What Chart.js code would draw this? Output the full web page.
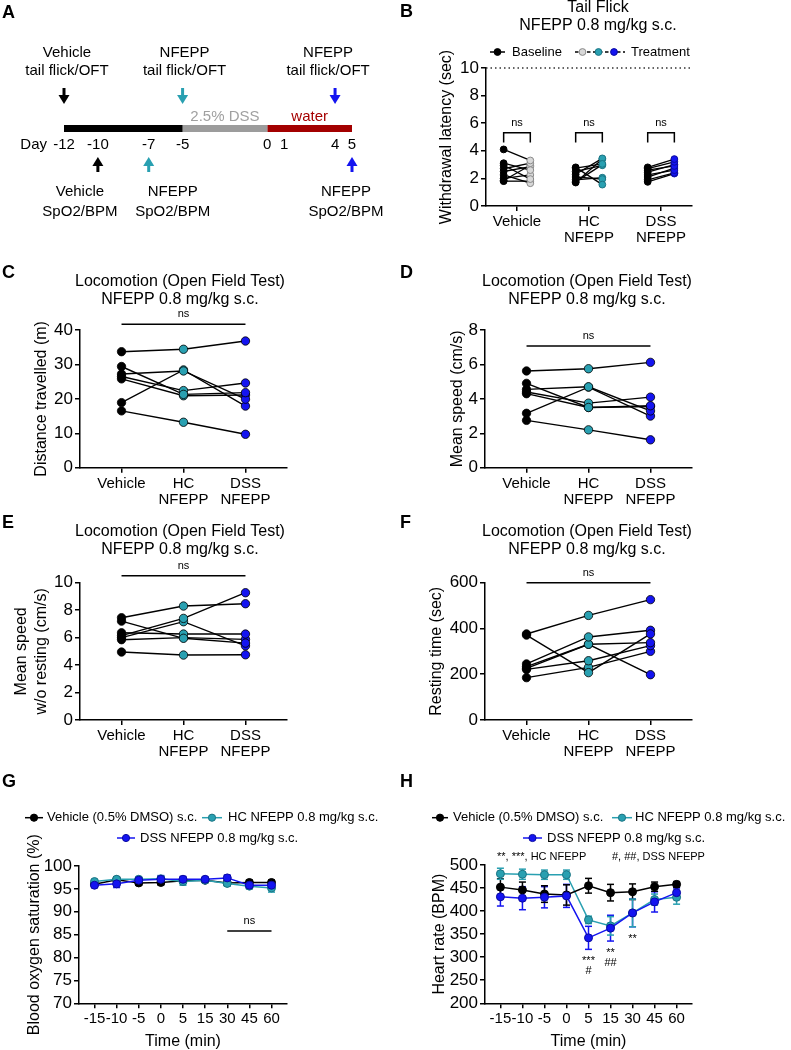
<!DOCTYPE html>
<html><head><meta charset="utf-8">
<script src="https://cdn.jsdelivr.net/npm/chart.js@4.4.1/dist/chart.umd.min.js"></script>
<style>
html,body{margin:0;padding:0;background:#fff;}
body{position:relative;width:791px;height:1050px;overflow:hidden;}
canvas{position:absolute;}
</style></head><body>
<script>
// ================= DATA =================
// Panel A timeline (days)
const timelineDays = [-12, -10, -7, -5, 0, 1, 4, 5];
const phaseStart = [-12, -5, 0];
const phaseEnd = [-5, 0, 5];
const phaseNames = ['', '2.5% DSS', 'water'];
const eventDays = [-12, -5, 4, -10, -7, 5];
const eventDrug = ['Vehicle', 'NFEPP', 'NFEPP', 'Vehicle', 'NFEPP', 'NFEPP'];
const eventTest = ['tail flick/OFT', 'tail flick/OFT', 'tail flick/OFT', 'SpO2/BPM', 'SpO2/BPM', 'SpO2/BPM'];
const eventGroup = [0, 1, 2, 0, 1, 2];

// Groups
const groupLabels = ['Vehicle', ['HC', 'NFEPP'], ['DSS', 'NFEPP']];

// Panel B tail flick withdrawal latency (sec)
const tfVehicleBase  = [4.1, 3.1, 2.95, 2.7, 2.5, 2.25, 2.0, 1.85, 1.8];
const tfVehicleTreat = [3.3, 2.6, 1.95, 3.1, 2.85, 1.65, 2.25, 2.95, 1.8];
const tfHCBase  = [2.8, 2.75, 2.5, 2.3, 2.1, 1.9, 1.75, 1.7];
const tfHCTreat = [1.55, 3.05, 2.95, 3.45, 1.95, 2.05, 3.0, 3.4];
const tfDSSBase  = [2.8, 2.7, 2.6, 2.45, 2.25, 2.1, 1.9, 1.75];
const tfDSSTreat = [3.4, 3.2, 2.9, 3.0, 2.6, 2.75, 2.4, 2.35];

// Panel C distance travelled (m)
const distVehicle = [33.7, 29.4, 27.2, 26.5, 25.8, 18.9, 16.5];
const distHC      = [34.4, 21.3, 28.1, 22.4, 20.9, 28.4, 13.2];
const distDSS     = [36.8, 21.8, 19.9, 24.6, 21.1, 17.9, 9.7];
// Panel D mean speed (cm/s)
const speedVehicle = [5.62, 4.9, 4.55, 4.4, 4.3, 3.16, 2.75];
const speedHC      = [5.75, 3.5, 4.7, 3.75, 3.5, 4.68, 2.2];
const speedDSS     = [6.12, 3.6, 3.3, 4.1, 3.55, 3.0, 1.62];
// Panel E mean speed w/o resting (cm/s)
const speedNRVehicle = [7.45, 7.2, 6.35, 6.15, 6.0, 5.85, 4.95];
const speedNRHC      = [8.3, 5.95, 6.26, 7.4, 7.16, 6.0, 4.73];
const speedNRDSS     = [8.47, 5.6, 6.26, 9.27, 5.4, 5.87, 4.75];
// Panel F resting time (sec)
const restVehicle = [376, 371, 245, 233, 226, 221, 185];
const restHC      = [457, 207, 363, 331, 331, 259, 230];
const restDSS     = [526, 376, 392, 338, 198, 325, 300];

// Panels G/H time course
const timeLabels = ['-15', '-10', '-5', '0', '5', '15', '30', '45', '60'];
const spo2Vehicle = [96.0, 97.0, 96.3, 96.4, 96.8, 96.9, 96.3, 96.4, 96.4];
const spo2VehicleSem = [0.5, 0.6, 0.5, 0.5, 0.4, 0.3, 0.5, 0.5, 0.5];
const spo2HC = [96.6, 97.1, 97.1, 97.2, 96.6, 96.9, 96.2, 95.6, 95.2];
const spo2HCSem = [0.4, 0.4, 0.4, 0.6, 0.8, 0.4, 0.6, 0.6, 0.9];
const spo2DSS = [95.8, 96.1, 96.9, 97.1, 97.1, 97.1, 97.4, 95.8, 95.8];
const spo2DSSSem = [0.5, 0.8, 0.5, 0.8, 0.6, 0.4, 0.6, 0.6, 0.6];

const hrVehicle = [452, 446, 437, 435, 455, 440, 442, 453, 458];
const hrVehicleSem = [18, 17, 18, 22, 16, 18, 17, 10, 6];
const hrHC = [481, 480, 479, 479, 381, 368, 396, 425, 430];
const hrHCSem = [12, 11, 10, 10, 8, 20, 30, 12, 15];
const hrDSS = [431, 428, 430, 433, 342, 363, 396, 420, 440];
const hrDSSSem = [20, 25, 23, 25, 25, 28, 30, 22, 10];
const hrSigHC  = ['', '', '', '', '***', '**', '**', '', ''];
const hrSigDSS = ['', '', '', '', '#', '##', '', '', ''];

// ================= STYLE / HELPERS =================
const FONT = "'Liberation Sans', Arial, Helvetica, sans-serif";
Chart.defaults.font.family = FONT;
Chart.defaults.color = '#000';
const TEAL = '#29A0B1', TEAL_DARK = '#1B7483', BLUE = '#1414F0', BLUE_DARK = '#0A0AA0', LIGHT = '#D8D8D8';
const GROUP_COLORS = ['#000000', TEAL, BLUE];
const AXW = 1.5;

function txt(ctx, s, x, y, size, o = {}) {
  ctx.save();
  ctx.font = (o.bold ? 'bold ' : '') + size + 'px ' + FONT;
  ctx.fillStyle = o.color || '#000';
  ctx.textAlign = o.align || 'center';
  ctx.textBaseline = o.baseline || 'middle';
  if (o.rot) { ctx.translate(x, y); ctx.rotate(o.rot); ctx.fillText(s, 0, 0); }
  else ctx.fillText(s, x, y);
  ctx.restore();
}
function line(ctx, x0, y0, x1, y1, color, w, dash) {
  ctx.save(); ctx.strokeStyle = color || '#000'; ctx.lineWidth = w || AXW;
  if (dash) ctx.setLineDash(dash);
  ctx.beginPath(); ctx.moveTo(x0, y0); ctx.lineTo(x1, y1); ctx.stroke(); ctx.restore();
}
function dot(ctx, x, y, r, fill, stroke) {
  ctx.save(); ctx.beginPath(); ctx.arc(x, y, r, 0, Math.PI * 2);
  ctx.fillStyle = fill; ctx.fill(); ctx.strokeStyle = stroke; ctx.lineWidth = 1; ctx.stroke(); ctx.restore();
}

function makePanel(box, area, cfg) {
  const c = document.createElement('canvas');
  c.width = box.w; c.height = box.h;
  c.style.left = box.left + 'px'; c.style.top = box.top + 'px';
  document.body.appendChild(c);
  const yShown = cfg.y.display !== false;
  const YW = 40;
  if (yShown) cfg.y.afterFit = s => { s.width = YW; };
  const xH = box.top + box.h - area.b;
  cfg.x.afterFit = s => { s.height = xH; };
  const H = chart => ({
    sx: v => chart.scales.x.getPixelForValue(v) + box.left,
    sy: v => chart.scales.y.getPixelForValue(v) + box.top,
    area: { l: chart.chartArea.left + box.left, r: chart.chartArea.right + box.left,
            t: chart.chartArea.top + box.top, b: chart.chartArea.bottom + box.top }
  });
  const hook = fn => chart => {
    if (!fn) return;
    const ctx = chart.ctx; ctx.save(); ctx.translate(-box.left, -box.top); fn(ctx, H(chart)); ctx.restore();
  };
  return new Chart(c, {
    type: 'line',
    data: { datasets: cfg.datasets },
    options: {
      responsive: false, animation: false,
      layout: { padding: { left: area.l - box.left - (yShown ? YW : 0), right: box.left + box.w - area.r, top: area.t - box.top, bottom: 0 } },
      scales: { x: cfg.x, y: cfg.y },
      plugins: { legend: { display: false }, tooltip: { enabled: false } },
      elements: { line: { tension: 0 } },
      events: []
    },
    plugins: [{ id: 'deco', beforeDatasetsDraw: hook(cfg.before), afterDraw: hook(cfg.after) }]
  });
}

function yAxis(min, max, step) {
  return { type: 'linear', min, max,
    ticks: { stepSize: step, font: { size: 17 }, padding: 2, color: '#000', autoSkip: false },
    grid: { drawOnChartArea: false, drawTicks: true, tickLength: 5, color: '#000', lineWidth: AXW },
    border: { display: true, color: '#000', width: AXW } };
}
function xAxis(min, max, vals, labels) {
  return { type: 'linear', min, max,
    afterBuildTicks: s => { s.ticks = vals.map(v => ({ value: v })); },
    ticks: { callback: v => labels[vals.indexOf(v)], font: { size: 15, lineHeight: 1.1 }, padding: 2.5,
             autoSkip: false, maxRotation: 0, minRotation: 0, color: '#000' },
    grid: { drawOnChartArea: false, drawTicks: true, tickLength: 5, color: '#000', lineWidth: AXW },
    border: { display: true, color: '#000', width: AXW } };
}
function letter(ctx, s, x, y) { txt(ctx, s, x, y, 18, { bold: true, align: 'left', baseline: 'alphabetic' }); }
function yTitle(ctx, lines, xs, area) {
  const cy = (area.t + area.b) / 2;
  lines.forEach((s, i) => txt(ctx, s, xs[i], cy, 16, { rot: -Math.PI / 2 }));
}
function title2(ctx, a, b, x, y1, y2) { txt(ctx, a, x, y1, 16); txt(ctx, b, x, y2, 16); }

// ================= PANEL A =================
const phaseColors = ['#000000', '#9C9C9C', '#A30000'];
const phaseTextColors = ['#000', '#A0A0A0', '#A50000'];
makePanel({ left: 0, top: 0, w: 420, h: 232 }, { l: 64, r: 352, t: 100, b: 128.5 }, {
  datasets: phaseStart.map((s, i) => ({
    data: [{ x: s, y: 0 }, { x: phaseEnd[i], y: 0 }],
    borderColor: phaseColors[i], borderWidth: 7, borderCapStyle: 'butt', pointRadius: 0, clip: false
  })),
  x: { type: 'linear', min: -12, max: 5,
       afterBuildTicks: s => { s.ticks = timelineDays.map(v => ({ value: v })); },
       ticks: { callback: v => String(v), font: { size: 15 }, padding: 7.5, autoSkip: false, maxRotation: 0, color: '#000' },
       grid: { display: false, drawTicks: false }, border: { display: false } },
  y: { display: false, min: 0, max: 1 },
  after: (ctx, h) => {
    letter(ctx, 'A', 2, 18);
    txt(ctx, 'Day', 47, 145, 15, { align: 'right' });
    phaseNames.forEach((n, i) => {
      if (n) txt(ctx, n, (h.sx(phaseStart[i]) + h.sx(phaseEnd[i])) / 2, 117, 15, { color: phaseTextColors[i] });
    });
    const shift = [3, 2, -7, -18, 24, -6];
    eventDays.forEach((d, i) => {
      const x = h.sx(d), col = GROUP_COLORS[eventGroup[i]];
      const top = eventTest[i] === 'tail flick/OFT';
      const yTail = top ? 88 : 172, yHead = top ? 104 : 157;
      const dir = Math.sign(yHead - yTail);
      ctx.save();
      ctx.strokeStyle = col; ctx.fillStyle = col; ctx.lineWidth = 3;
      ctx.beginPath(); ctx.moveTo(x, yTail); ctx.lineTo(x, yHead - dir * 7); ctx.stroke();
      ctx.beginPath(); ctx.moveTo(x - 5.5, yHead - dir * 9); ctx.lineTo(x + 5.5, yHead - dir * 9); ctx.lineTo(x, yHead); ctx.closePath(); ctx.fill();
      ctx.restore();
      const ly = top ? [53, 71] : [192, 212];
      txt(ctx, eventDrug[i], x + shift[i], ly[0], 15);
      txt(ctx, eventTest[i], x + shift[i], ly[1], 15);
    });
  }
});

// ================= PANEL B =================
const TF_OFF = 0.185;
const tfGroups = [[tfVehicleBase, tfVehicleTreat], [tfHCBase, tfHCTreat], [tfDSSBase, tfDSSTreat]];
const treatFill = [LIGHT, TEAL, BLUE], treatEdge = ['#8A8A8A', TEAL_DARK, BLUE_DARK];
const tfDatasets = [];
tfGroups.forEach(([b, t], g) => b.forEach((v, i) => tfDatasets.push({
  data: [{ x: g - TF_OFF, y: v }, { x: g + TF_OFF, y: t[i] }],
  borderColor: '#000', borderWidth: 1.3, pointRadius: 3.4, pointBorderWidth: 1,
  pointBackgroundColor: ['#000', treatFill[g]], pointBorderColor: ['#000', treatEdge[g]], clip: false
})));
makePanel({ left: 380, top: 0, w: 411, h: 250 }, { l: 486, r: 692, t: 68, b: 206 }, {
  datasets: tfDatasets,
  x: xAxis(-0.43, 2.43, [0, 1, 2], groupLabels),
  y: yAxis(0, 10, 2),
  before: (ctx, h) => {
    line(ctx, h.area.l, h.sy(10), h.area.r, h.sy(10), '#333', 1.5, [1.5, 3]);
  },
  after: (ctx, h) => {
    letter(ctx, 'B', 400, 17);
    title2(ctx, 'Tail Flick', 'NFEPP 0.8 mg/kg s.c.', 598, 8, 26);
    yTitle(ctx, ['Withdrawal latency (sec)'], [446.7], h.area);
    // legend
    line(ctx, 490, 52, 505, 52, '#000', 1.5);
    dot(ctx, 497.5, 52, 3.4, '#000', '#000');
    txt(ctx, 'Baseline', 512, 52, 13, { align: 'left' });
    line(ctx, 575, 52, 625, 52, '#000', 1.3, [3.5, 2.5]);
    dot(ctx, 582.5, 52, 3.4, LIGHT, '#8A8A8A');
    dot(ctx, 598.5, 52, 3.4, TEAL, TEAL_DARK);
    dot(ctx, 614, 52, 3.4, BLUE, BLUE_DARK);
    txt(ctx, 'Treatment', 631, 52, 13, { align: 'left' });
    // brackets
    [0, 1, 2].forEach(g => {
      const x0 = h.sx(g - TF_OFF), x1 = h.sx(g + TF_OFF), yt = h.sy(5.3), yl = h.sy(4.6);
      ctx.save(); ctx.strokeStyle = '#000'; ctx.lineWidth = 1.5;
      ctx.beginPath(); ctx.moveTo(x0, yl); ctx.lineTo(x0, yt); ctx.lineTo(x1, yt); ctx.lineTo(x1, yl); ctx.stroke(); ctx.restore();
      txt(ctx, 'ns', (x0 + x1) / 2, yt - 10, 11);
    });
  }
});

// ================= PANELS C-F =================
function pairedDatasets(a, b, c) {
  return a.map((v, i) => ({
    data: [{ x: 0, y: a[i] }, { x: 1, y: b[i] }, { x: 2, y: c[i] }],
    borderColor: '#000', borderWidth: 1.4, pointRadius: 4.2, pointBorderWidth: 0.8,
    pointBorderColor: '#000', pointBackgroundColor: ['#000', TEAL, BLUE], clip: false
  }));
}
function locoPanel(box, area, L, sets, yr, nsVal, titleX, titleY, yTitleLines, yTitleXs) {
  makePanel(box, area, {
    datasets: pairedDatasets(...sets),
    x: xAxis(-0.67, 2.67, [0, 1, 2], groupLabels),
    y: yAxis(yr[0], yr[1], yr[2]),
    after: (ctx, h) => {
      letter(ctx, L, L === 'C' || L === 'E' ? 2 : 400, titleY - 4);
      title2(ctx, 'Locomotion (Open Field Test)', 'NFEPP 0.8 mg/kg s.c.', titleX, titleY, titleY + 18);
      yTitle(ctx, yTitleLines, yTitleXs, h.area);
      const y = h.sy(nsVal);
      line(ctx, h.sx(0), y, h.sx(2), y, '#000', 1.5);
      txt(ctx, 'ns', h.sx(1), y - 10, 11);
    }
  });
}
locoPanel({ left: 0, top: 260, w: 395, h: 250 }, { l: 80, r: 287, t: 330, b: 467.7 }, 'C',
  [distVehicle, distHC, distDSS], [0, 40, 10], 41.7, 180, 282, ['Distance travelled (m)'], [41.7]);
locoPanel({ left: 395, top: 260, w: 396, h: 250 }, { l: 485, r: 692, t: 330, b: 467.7 }, 'D',
  [speedVehicle, speedHC, speedDSS], [0, 8, 2], 7.07, 587, 282, ['Mean speed (cm/s)'], [458]);
locoPanel({ left: 0, top: 510, w: 395, h: 250 }, { l: 80, r: 287, t: 582.7, b: 720 }, 'E',
  [speedNRVehicle, speedNRHC, speedNRDSS], [0, 10, 2], 10.5, 180, 532, ['Mean speed', 'w/o resting (cm/s)'], [21.7, 41.7]);
locoPanel({ left: 395, top: 510, w: 396, h: 250 }, { l: 485, r: 692, t: 582.7, b: 720 }, 'F',
  [restVehicle, restHC, restDSS], [0, 600, 200], 600, 587, 532, ['Resting time (sec)'], [436.7]);

// ================= PANELS G-H =================
const idx = timeLabels.map((_, i) => i);
function tsDataset(vals, color, edge) {
  return { data: vals.map((v, i) => ({ x: i, y: v })), borderColor: color, borderWidth: 1.5,
    pointRadius: 4, pointBorderWidth: 1, pointBackgroundColor: color, pointBorderColor: edge, clip: false };
}
function errBars(ctx, h, series) {
  series.forEach(s => s.vals.forEach((v, i) => {
    const x = h.sx(i), y1 = h.sy(v + s.sem[i]), y2 = h.sy(v - s.sem[i]);
    line(ctx, x, y1, x, y2, s.color, 1.5);
    line(ctx, x - 3.5, y1, x + 3.5, y1, s.color, 1.5);
    line(ctx, x - 3.5, y2, x + 3.5, y2, s.color, 1.5);
  }));
}
function legendItem(ctx, x0, x1, y, color, edge, label, tx) {
  line(ctx, x0, y, x1, y, color, 1.5);
  dot(ctx, (x0 + x1) / 2, y, 3.6, color, edge);
  txt(ctx, label, tx, y, 13, { align: 'left' });
}
const LEG = ['Vehicle (0.5% DMSO) s.c.', 'HC NFEPP 0.8 mg/kg s.c.', 'DSS NFEPP 0.8 mg/kg s.c.'];

const gSeries = [
  { vals: spo2DSS, sem: spo2DSSSem, color: BLUE, edge: BLUE_DARK },
  { vals: spo2HC, sem: spo2HCSem, color: TEAL, edge: TEAL_DARK },
  { vals: spo2Vehicle, sem: spo2VehicleSem, color: '#000', edge: '#000' }
];
makePanel({ left: 0, top: 760, w: 395, h: 292 }, { l: 79, r: 287, t: 866, b: 1003.3 }, {
  datasets: gSeries.map(s => tsDataset(s.vals, s.color, s.edge)),
  x: xAxis(-0.7, 8.7, idx, timeLabels),
  y: yAxis(70, 100, 5),
  before: (ctx, h) => errBars(ctx, h, gSeries),
  after: (ctx, h) => {
    letter(ctx, 'G', 2, 787);
    legendItem(ctx, 25, 43, 817.7, '#000', '#000', LEG[0], 47);
    legendItem(ctx, 202, 222, 817.7, TEAL, TEAL_DARK, LEG[1], 228);
    legendItem(ctx, 117, 135, 838, BLUE, BLUE_DARK, LEG[2], 140);
    yTitle(ctx, ['Blood oxygen saturation (%)'], [35], h.area);
    txt(ctx, 'Time (min)', (h.area.l + h.area.r) / 2, 1041.7, 16);
    const y = h.sy(85.8);
    line(ctx, h.sx(6), y, h.sx(8), y, '#000', 1.5);
    txt(ctx, 'ns', h.sx(7), y - 10, 11);
  }
});

const hSeries = [
  { vals: hrDSS, sem: hrDSSSem, color: BLUE, edge: BLUE_DARK },
  { vals: hrVehicle, sem: hrVehicleSem, color: '#000', edge: '#000' },
  { vals: hrHC, sem: hrHCSem, color: TEAL, edge: TEAL_DARK }
];
makePanel({ left: 395, top: 760, w: 396, h: 292 }, { l: 485, r: 692, t: 865, b: 1003.3 }, {
  datasets: hSeries.map(s => tsDataset(s.vals, s.color, s.edge)),
  x: xAxis(-0.7, 8.7, idx, timeLabels),
  y: yAxis(200, 500, 50),
  before: (ctx, h) => errBars(ctx, h, hSeries),
  after: (ctx, h) => {
    letter(ctx, 'H', 400, 787);
    legendItem(ctx, 432, 448, 817.7, '#000', '#000', LEG[0], 453);
    legendItem(ctx, 612, 632, 817.7, TEAL, TEAL_DARK, LEG[1], 635);
    legendItem(ctx, 523, 542, 838, BLUE, BLUE_DARK, LEG[2], 547);
    txt(ctx, '**, ***, HC NFEPP', 497, 856.7, 11, { align: 'left' });
    txt(ctx, '#, ##, DSS NFEPP', 612, 856.7, 11, { align: 'left' });
    yTitle(ctx, ['Heart rate (BPM)'], [440], h.area);
    txt(ctx, 'Time (min)', (h.area.l + h.area.r) / 2, 1041.7, 16);
    idx.forEach(i => {
      if (!hrSigHC[i] && !hrSigDSS[i]) return;
      const low = Math.max(...hSeries.map(s => h.sy(s.vals[i] - s.sem[i])));
      if (hrSigHC[i]) txt(ctx, hrSigHC[i], h.sx(i), low + 15, 11, { baseline: 'alphabetic' });
      if (hrSigDSS[i]) txt(ctx, hrSigDSS[i], h.sx(i), low + 24.5, 11, { baseline: 'alphabetic' });
    });
  }
});
</script>
</body></html>
